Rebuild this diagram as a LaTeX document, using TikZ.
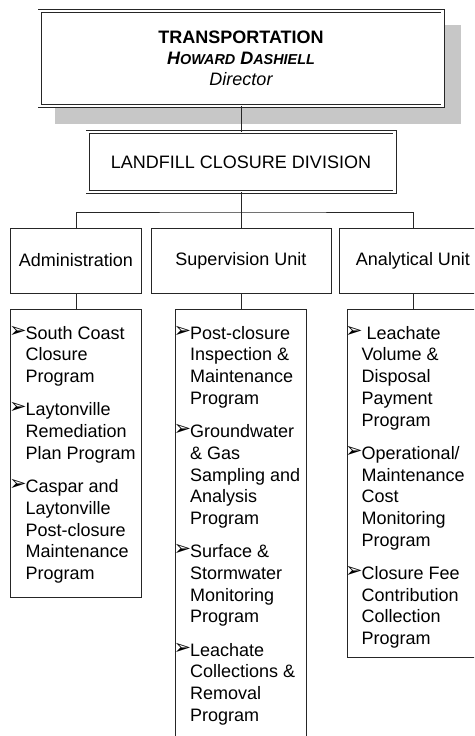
\documentclass[tikz,border=0pt]{standalone}
\usepackage{fontspec}
\usepackage{graphicx}
\setmainfont{Liberation Sans}
\newfontfamily\dingfont{DejaVu Sans}
\newcommand{\bul}{\makebox[14pt][l]{\hspace*{-2.5pt}\smash{\raisebox{2pt}{\dingfont\fontsize{21}{21}\selectfont ➢}}}}
\newcommand{\ind}{\hspace*{14pt}}
\newcommand{\smc}[1]{{\fontsize{14.4}{21}\selectfont #1}}
\begin{document}
\begin{tikzpicture}[x=1pt,y=-1pt,
  box/.style={draw=black!85, line width=0.9pt, fill=white, inner sep=0pt},
  dbox/.style={draw=black!85, double=white, line width=0.9pt, double distance=2.2pt, fill=white, inner sep=0pt},
  conn/.style={draw=black!85, line width=0.9pt},
  lbl/.style={font=\fontsize{18}{21.7}\selectfont, align=center},
  items/.style={anchor=north west, inner sep=0pt, align=left, font=\fontsize{18}{21.7}\selectfont}]
\useasboundingbox (0,0) rectangle (474,736);
\clip (0,0) rectangle (474,736);
% shadow
\fill[black!22] (55,25) rectangle (461,124);
% top
\node[dbox, lbl, font=\fontsize{18}{21}\selectfont, minimum width=403pt, minimum height=95pt] (top) at (241,58.5)
  {{\bfseries TRANSPORTATION}\\{\bfseries\itshape H\smc{OWARD} D\smc{ASHIELL}}\\{\itshape Director}};
\node[dbox, lbl, minimum width=307pt, minimum height=60pt] (lcd) at (241,162) {LANDFILL CLOSURE DIVISION};
\coordinate (bus) at (241,212);
% units
\node[box, lbl, minimum width=131pt, minimum height=65pt] (adm) at (76,260.5) {Administration};
\node[box, lbl, minimum width=180pt, minimum height=65pt] (sup) at (241,260.5) {Supervision Unit};
\node[box, lbl, minimum width=148pt, minimum height=65pt] (ana) at (413,260.5) {Analytical Unit};
% lower boxes
\node[box, minimum width=131pt, minimum height=288pt] (admL) at (76,453) {};
\node[box, minimum width=131pt, minimum height=432pt] (supL) at (241,525) {};
\node[box, minimum width=132pt, minimum height=348pt] (anaL) at (413,483) {};
% connectors
\draw[conn] (top.south) -- (lcd.north);
\draw[conn] (lcd.south) -- (bus);
\draw[conn] (adm.north) |- (bus) -| (ana.north);
\draw[conn] (bus) -- (sup.north);
\draw[conn] (adm.south) -- (admL.north);
\draw[conn] (sup.south) -- (supL.north);
\draw[conn] (ana.south) -- (anaL.north);
% item texts
\node[items] (admT) at (11.5,323) {\rule{0pt}{16pt}\bul South Coast\\ \ind Closure\\ \ind Program\\[11.6pt]
  \bul Laytonville\\ \ind Remediation\\ \ind Plan Program\\[11.6pt]
  \bul Caspar and\\ \ind Laytonville\\ \ind Post-closure\\ \ind Maintenance\\ \ind Program};
\node[items] (supT) at (176,323) {\rule{0pt}{16pt}\bul Post-closure\\ \ind Inspection \&\\ \ind Maintenance\\ \ind Program\\[11.6pt]
  \bul Groundwater\\ \ind \& Gas\\ \ind Sampling and\\ \ind Analysis\\ \ind Program\\[11.6pt]
  \bul Surface \&\\ \ind Stormwater\\ \ind Monitoring\\ \ind Program\\[11.6pt]
  \bul Leachate\\ \ind Collections \&\\ \ind Removal\\ \ind Program};
\node[items] (anaT) at (347.5,323) {\rule{0pt}{16pt}\bul\ Leachate\\ \ind Volume \&\\ \ind Disposal\\ \ind Payment\\ \ind Program\\[11.6pt]
  \bul Operational/\\ \ind Maintenance\\ \ind Cost\\ \ind Monitoring\\ \ind Program\\[11.6pt]
  \bul Closure Fee\\ \ind Contribution\\ \ind Collection\\ \ind Program};
\end{tikzpicture}
\end{document}
